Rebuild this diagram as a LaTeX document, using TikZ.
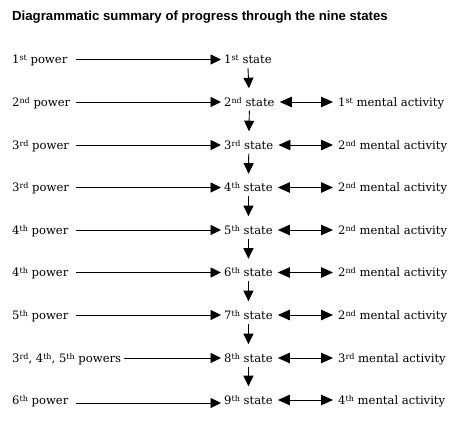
\documentclass[tikz,border=0pt]{standalone}
\usepackage{fontspec}
\setmainfont{DejaVu Serif}
\newfontfamily\titlefont{Liberation Sans}
\usetikzlibrary{arrows.meta}
\tikzset{
  lbl/.style={anchor=base west,inner sep=0pt,text height=9pt,text depth=3pt,font=\fontsize{11.6}{14}\selectfont},
  statebox/.style={lbl},
  arr/.style={-{Triangle[length=10.5pt,width=10pt]},line width=0.9pt},
  darr/.style={{Triangle[length=12pt,width=10.5pt]}-{Triangle[length=12pt,width=10.5pt]},line width=0.9pt},
}
\newcommand{\sps}[1]{\raisebox{0.5ex}{\fontsize{8}{9}\selectfont #1}}
\begin{document}
\begin{tikzpicture}[x=1pt,y=-1pt]
\useasboundingbox (0,0) rectangle (471,429);
\node[anchor=base west,inner sep=0pt,font=\titlefont\bfseries\fontsize{13.2}{15}\selectfont] (title) at (12,20.7) {Diagrammatic summary of progress through the nine states};
% rows
\foreach \i/\y/\ly/\x/\p/\s/\m in {
  1/59.5/59.5/76/{1\sps{st} power}/{1\sps{st} state}/{},
  2/102/102/76/{2\sps{nd} power}/{2\sps{nd} state}/{1\sps{st} mental activity},
  3/145/145/76/{3\sps{rd} power}/{3\sps{rd} state}/{2\sps{nd} mental activity},
  4/187.5/187.5/76/{3\sps{rd} power}/{4\sps{th} state}/{2\sps{nd} mental activity},
  5/230/230/76/{4\sps{th} power}/{5\sps{th} state}/{2\sps{nd} mental activity},
  6/272.5/272.5/76/{4\sps{th} power}/{6\sps{th} state}/{2\sps{nd} mental activity},
  7/315/315/76/{5\sps{th} power}/{7\sps{th} state}/{2\sps{nd} mental activity},
  8/358/358/0/{3\sps{rd}, 4\sps{th}, 5\sps{th} powers}/{8\sps{th} state}/{3\sps{rd} mental activity},
  9/400/403/76/{6\sps{th} power}/{9\sps{th} state}/{4\sps{th} mental activity}}
{
  \node[lbl] (p\i) at (12,\y+4.2) {\p};
  \node[statebox] (s\i) at (224,\y+4.2) {\s};
  \ifnum\x=0
    \coordinate (a\i) at ([xshift=3pt]p\i.east |- 0,\ly);
  \else
    \coordinate (a\i) at (\x,\ly);
  \fi
  \draw[arr,shorten >=3pt] (a\i) -- (a\i -| s\i.west);
  \ifnum\i>1
    \node[lbl] (m\i) at (338,\y+4.2) {\m};
    \coordinate (d\i) at (0,\y);
    \draw[darr,shorten <=5pt,shorten >=5pt] (d\i -| s\i.east) -- (d\i -| m\i.west);
  \fi
}
\foreach \i/\j in {1/2,2/3,3/4,4/5,5/6,6/7,7/8,8/9}
  \draw[arr,shorten <=1.3pt,shorten >=8.8pt] (s\i.south) -- (s\j.north);
\end{tikzpicture}
\end{document}
